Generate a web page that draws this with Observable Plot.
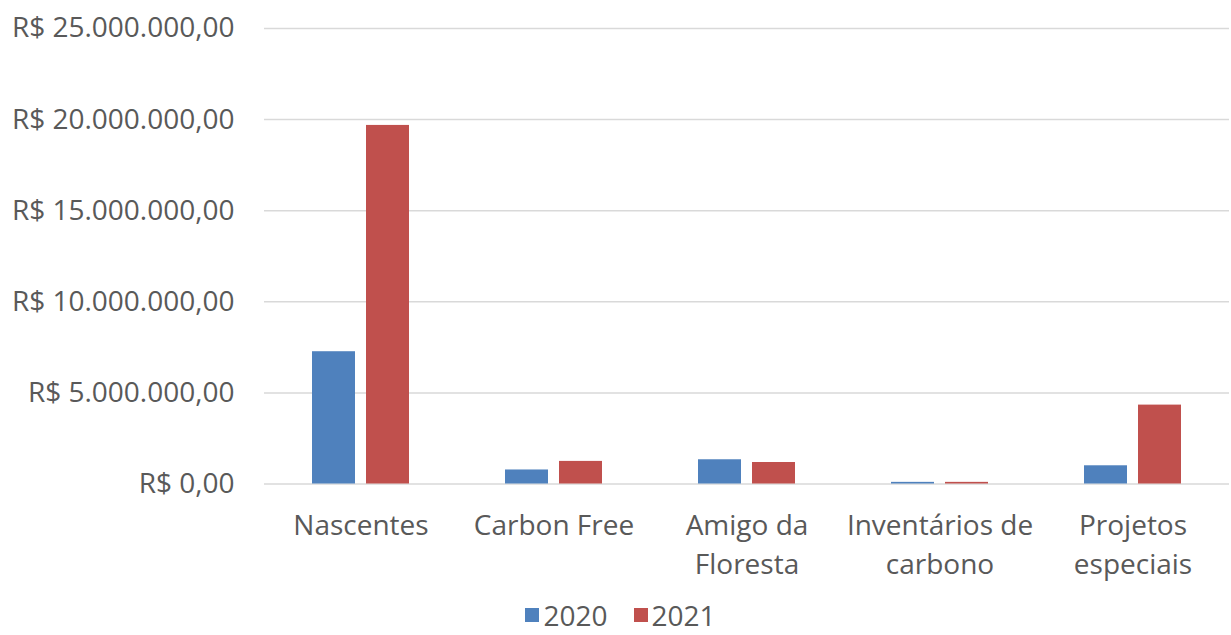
<!DOCTYPE html>
<html>
<head>
<meta charset="utf-8">
<script src="https://cdn.jsdelivr.net/npm/d3@7"></script>
<script src="https://cdn.jsdelivr.net/npm/@observablehq/plot@0.6"></script>
<style>
  html, body { margin: 0; padding: 0; background: #fff; }
  #chart { width: 1231px; height: 635px; font-family: "Open Sans", sans-serif; }
  .legend { display: flex; justify-content: center; align-items: center; gap: 26px; height: 40px; font-size: 28px; color: #595959; padding-left: 10px; margin-top: 4px; }
  .legend span.item { display: flex; align-items: center; gap: 4px; }
  .legend span.sw { display: inline-block; width: 14px; height: 14px; }
</style>
</head>
<body>
<div id="chart"></div>
<script>
const categories = ["Nascentes", "Carbon Free", "Amigo da\nFloresta", "Inventários de\ncarbono", "Projetos\nespeciais"];
const years = ["2020", "2021"];
const values2020 = [7260000, 770000, 1330000, 90000, 1000000];
const values2021 = [19680000, 1240000, 1180000, 90000, 4330000];
const yTicks = [0, 5000000, 10000000, 15000000, 20000000, 25000000];
const colors = ["#4f81bd", "#c0504d"];

const data = [];
categories.forEach((c, i) => {
  data.push({category: c, year: years[0], value: values2020[i]});
  data.push({category: c, year: years[1], value: values2021[i]});
});

const locale = d3.formatLocale({decimal: ",", thousands: ".", grouping: [3], currency: ["R$ ", ""]});
const fmt = locale.format("$,.2f");

const plot = Plot.plot({
  width: 1231,
  height: 591,
  marginTop: 28,
  marginBottom: 107.5,
  marginLeft: 262,
  marginRight: 0,
  style: {fontFamily: "Open Sans, sans-serif", fontSize: "28px", color: "#595959", background: "white"},
  fx: {domain: categories, padding: 0, label: null, axis: null},
  x: {domain: years, paddingInner: 0.2, paddingOuter: 0.862, axis: null},
  y: {domain: [0, 25000000], label: null},
  color: {domain: years, range: colors},
  marks: [
    Plot.ruleY(yTicks, {stroke: "#d9d9d9", strokeWidth: 1.5}),
    Plot.barY(data, {fx: "category", x: "year", y: "value", fill: "year"}),
    Plot.axisY(yTicks, {tickFormat: fmt, tickSize: 0, tickPadding: 30, fill: "#595959", fontSize: 28, label: null}),
    Plot.axisFx({anchor: "bottom", tickSize: 0, tickPadding: 24, lineHeight: 1.38, fill: "#595959", fontSize: 28, label: null})
  ]
});

const root = document.getElementById("chart");
root.appendChild(plot);
const legend = document.createElement("div");
legend.className = "legend";
years.forEach((y, i) => {
  const item = document.createElement("span");
  item.className = "item";
  const sw = document.createElement("span");
  sw.className = "sw";
  sw.style.background = colors[i];
  item.appendChild(sw);
  item.appendChild(document.createTextNode(y));
  legend.appendChild(item);
});
root.appendChild(legend);
</script>
</body>
</html>
